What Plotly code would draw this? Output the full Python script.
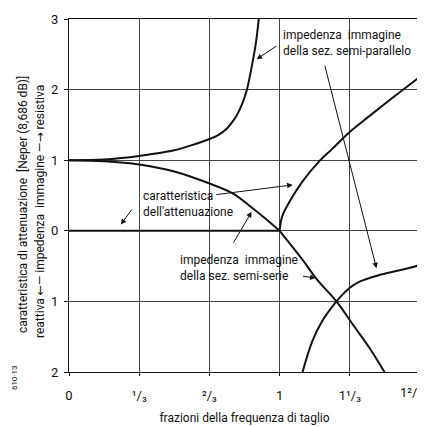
import plotly.graph_objects as go

# x in fractions of cutoff frequency, y in the chart's units
# impedenza immagine, sez. semi-parallelo (resistive part, x < 1)
par_x = [0, 0.167, 0.25, 0.333, 0.42, 0.5, 0.58, 0.667, 0.71, 0.75, 0.78, 0.801, 0.825, 0.844, 0.868, 0.887, 0.901]
par_y = [1.0, 1.01, 1.03, 1.06, 1.10, 1.14, 1.21, 1.30, 1.36, 1.45, 1.56, 1.66, 1.82, 1.99, 2.33, 2.65, 3.0]

# impedenza immagine, sez. semi-serie (resistive part, x < 1)
ser_x = [0, 0.167, 0.333, 0.5, 0.667, 0.777, 0.872, 0.938, 1.0]
ser_y = [1.0, 0.985, 0.94, 0.84, 0.67, 0.53, 0.32, 0.16, 0.0]

# reactive part of semi-serie (x > 1)
ser_r_x = [1.0, 1.109, 1.175, 1.27, 1.346, 1.427, 1.498]
ser_r_y = [0.0, -0.41, -0.68, -1.0, -1.32, -1.66, -2.0]

# reactive part of semi-parallelo (x > 1)
par_r_x = [1.109, 1.156, 1.204, 1.27, 1.30, 1.332, 1.38, 1.47, 1.57, 1.673]
par_r_y = [-2.0, -1.56, -1.27, -1.0, -0.90, -0.81, -0.72, -0.63, -0.56, -0.48]

# caratteristica di attenuazione
att_flat_x = [0, 1.0]
att_flat_y = [0, 0]
att_x = [1.0, 1.012, 1.047, 1.109, 1.19, 1.25, 1.333, 1.42, 1.5, 1.569, 1.674]
att_y = [0.0, 0.2, 0.41, 0.70, 0.99, 1.16, 1.40, 1.61, 1.80, 1.96, 2.2]

x_ticks = [0, 1/3, 2/3, 1, 4/3]
x_labels = ["0", "¹/₃", "²/₃", "1", "1¹/₃"]
x_last_tick = 5/3
x_last_label = "1²/₃"
y_ticks = [3, 2, 1, 0, -1, -2]
y_labels = ["3", "2", "1", "0", "1", "2"]

FONT = "Roboto, DejaVu Sans, sans-serif"
INK = "#111111"
line = dict(color=INK, width=2)

# page has an 8px body margin, so the figure is 8px smaller than the window
W, H = 417, 419
L, R, T, B = 61, 4, 9, 55


def page_to_paper(px, py):
    return ((px - 8 - L) / (W - L - R), 1 - (py - 8 - T) / (H - T - B))


fig = go.Figure()
for xs, ys in [(par_x, par_y), (ser_x, ser_y), (ser_r_x, ser_r_y),
               (par_r_x, par_r_y), (att_x, att_y)]:
    fig.add_trace(go.Scatter(x=xs, y=ys, mode="lines", line_shape="spline",
                             line=line, hoverinfo="skip"))
fig.add_trace(go.Scatter(x=att_flat_x, y=att_flat_y, mode="lines",
                         line=line, hoverinfo="skip"))

fig.update_xaxes(range=[0, 5/3], tickvals=x_ticks, ticktext=x_labels,
                 showgrid=True, gridcolor="#444444", gridwidth=1,
                 zeroline=False, showline=True, linecolor=INK, mirror=True,
                 ticks="outside", ticklen=3, tickcolor=INK,
                 ticklabelstandoff=8,
                 tickfont=dict(family=FONT, size=13, color=INK),
                 title=dict(text="frazioni della frequenza di taglio",
                            font=dict(family=FONT, size=12, color=INK),
                            standoff=12))
fig.update_yaxes(range=[-2, 3], tickvals=y_ticks, ticktext=y_labels,
                 showgrid=True, gridcolor="#444444", gridwidth=1,
                 zeroline=False, showline=True, linecolor=INK, mirror=True,
                 ticks="outside", ticklen=4, tickcolor=INK,
                 ticklabelstandoff=3,
                 tickfont=dict(family=FONT, size=13, color=INK))

txt = dict(family=FONT, size=12, color=INK)
annotations = [
    dict(x=1.005, y=2.9, xref="x", yref="y", xanchor="left", yanchor="top",
         text="impedenza  immagine<br>della sez. semi-parallelo", showarrow=False,
         align="left", font=txt),
    dict(x=0.341, y=0.62, xref="x", yref="y", xanchor="left", yanchor="top",
         text="caratteristica<br>dell'attenuazione", showarrow=False,
         align="left", font=txt),
    dict(x=0.517, y=-0.28, xref="x", yref="y", xanchor="left", yanchor="top",
         text="impedenza  immagine<br>della sez. semi-serie", showarrow=False,
         align="left", font=txt),
    # last x tick label sits at the right edge, drawn as an annotation
    dict(x=x_last_tick, y=0, xref="x", yref="paper", xanchor="center",
         yanchor="top", xshift=-9, yshift=-11, text=x_last_label,
         showarrow=False, font=dict(family=FONT, size=13, color=INK)),
]

# arrows: (tail_x, tail_y, head_x, head_y)
arrows = [
    (0.991, 2.63, 0.891, 2.43),
    (1.213, 2.36, 1.46, -0.53),
    (0.692, 0.51, 1.062, 0.65),
    (0.303, 0.32, 0.246, 0.09),
    (0.777, -0.19, 0.867, 0.27),
    (1.104, -0.64, 1.171, -0.67),
]
for tx, ty, hx, hy in arrows:
    annotations.append(dict(x=hx, y=hy, ax=tx, ay=ty, xref="x", yref="y",
                            axref="x", ayref="y", text="", showarrow=True,
                            arrowhead=2, arrowsize=1.1, arrowwidth=1,
                            arrowcolor=INK))

# rotated y-axis titles and the figure code
side_texts = [
    (23, 204, "caratteristica di attenuazione  [Neper (8,686 dB)]", 12),
    (40, 211, "reattiva ←— impedenza  immagine —→ resistiva", 12),
    (15, 378, "610·13", 8),
]
for px, py, text, size in side_texts:
    x, y = page_to_paper(px, py)
    annotations.append(dict(x=x, y=y, xref="paper", yref="paper", text=text,
                            textangle=-90, showarrow=False,
                            xanchor="center", yanchor="middle",
                            font=dict(family=FONT, size=size, color=INK)))

fig.update_layout(
    width=W, height=H,
    margin=dict(l=L, r=R, t=T, b=B),
    paper_bgcolor="white", plot_bgcolor="white",
    showlegend=False,
    annotations=annotations,
)

fig.write_html("out.html")
